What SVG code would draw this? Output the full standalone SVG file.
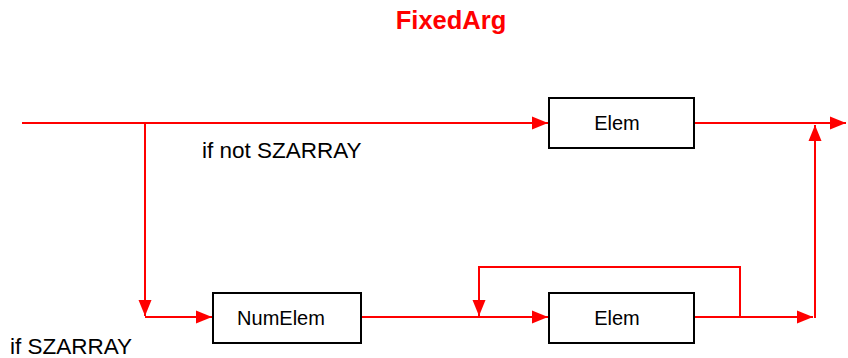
<svg xmlns="http://www.w3.org/2000/svg" width="848" height="358" viewBox="0 0 848 358">
<style>
.conn{fill:none;stroke:#ff0000;stroke-width:2}
.box{fill:#ffffff;stroke:#000000;stroke-width:2}
.lbl{font-family:"Liberation Sans",Arial,sans-serif;font-size:20px;fill:#000000}
.note{font-family:"Liberation Sans",Arial,sans-serif;font-size:22.5px;fill:#000000}
.title{font-family:"Liberation Sans",Arial,sans-serif;font-size:25.5px;font-weight:bold;fill:#ff0000}
</style>
<defs>
<marker id="arr" markerUnits="userSpaceOnUse" markerWidth="18" markerHeight="14" refX="16" refY="7" orient="auto">
<path d="M0,0.5 L16,7 L0,13.5 Z" fill="#ff0000"/>
</marker>
</defs>
<rect width="848" height="358" fill="#ffffff"/>
<text class="title" x="451" y="29" text-anchor="middle">FixedArg</text>
<g id="connectors">
<path class="conn" d="M22,123 H548" marker-end="url(#arr)"/>
<path class="conn" d="M694,123 H846" marker-end="url(#arr)"/>
<path class="conn" d="M145,123 V316" marker-end="url(#arr)"/>
<path class="conn" d="M145,317 H212" marker-end="url(#arr)"/>
<path class="conn" d="M361,317 H548" marker-end="url(#arr)"/>
<path class="conn" d="M740,317 V267 H479 V316" marker-end="url(#arr)"/>
<path class="conn" d="M694,317 H813" marker-end="url(#arr)"/>
<path class="conn" d="M815,318 V125" marker-end="url(#arr)"/>
</g>
<g id="elem-top">
<rect class="box" x="549" y="98" width="145" height="50"/>
<text class="lbl" x="617" y="130" text-anchor="middle">Elem</text>
</g>
<g id="numelem">
<rect class="box" x="213" y="293" width="148" height="50"/>
<text class="lbl" x="281" y="325" text-anchor="middle">NumElem</text>
</g>
<g id="elem-bottom">
<rect class="box" x="549" y="293" width="145" height="50"/>
<text class="lbl" x="617" y="325" text-anchor="middle">Elem</text>
</g>
<g id="labels">
<text class="note" x="202" y="158">if not SZARRAY</text>
<text class="note" x="10" y="354">if SZARRAY</text>
</g>
</svg>
